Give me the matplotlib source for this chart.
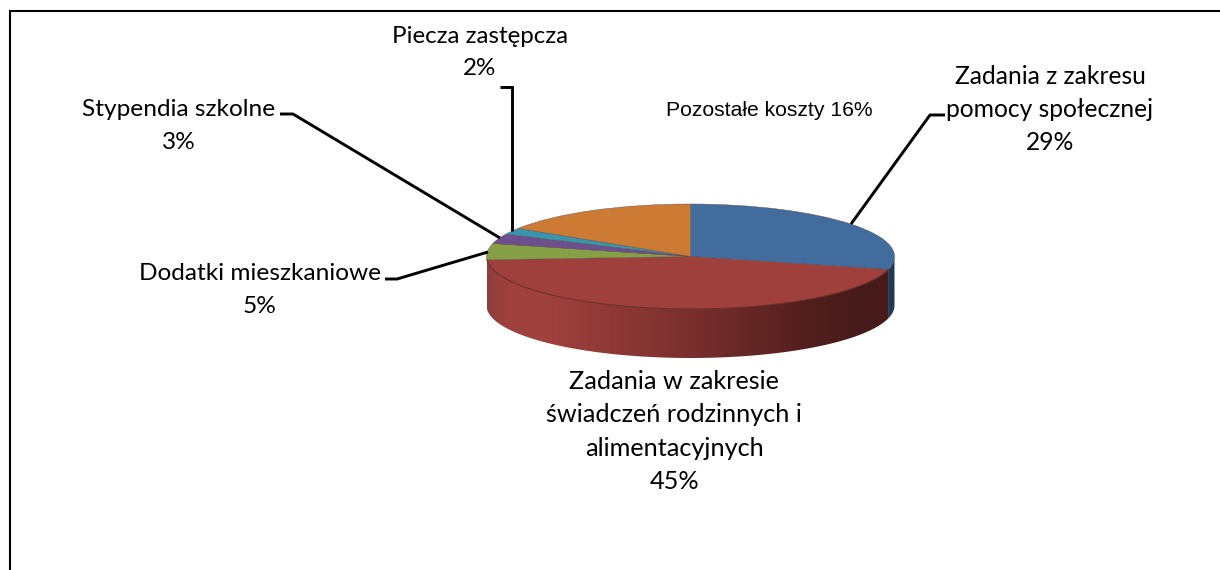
import numpy as np
import matplotlib
matplotlib.use('Agg')
import matplotlib.pyplot as plt
from matplotlib.colors import LinearSegmentedColormap
from matplotlib.patches import Polygon

# slices, clockwise from 12 o'clock
categories = ['Zadania z zakresu\npomocy społecznej', 'Zadania w zakresie\nświadczeń rodzinnych i\nalimentacyjnych',
              'Dodatki mieszkaniowe', 'Stypendia szkolne', 'Piecza zastępcza', 'Pozostałe koszty']
values = [29, 45, 5, 3, 2, 16]
colors = ['#426C9E', '#A0403C', '#85A045', '#6C4F8C', '#3795AE', '#CD7B34']

W, H = 1220, 570
cx, cy, rx, ry, depth = 690.5, 256.5, 204, 52.5, 49

fig = plt.figure(figsize=(W / 100, H / 100), dpi=100)

# pie axes: one data unit is rx wide and ry high, so the circle becomes the tilted top
ax = fig.add_axes([0, 0, 1, 1])
ax.pie(values, colors=colors, startangle=90, counterclock=False,
       wedgeprops={'linewidth': 0.3, 'edgecolor': '#5a4a4a'}, normalize=True)
ax.set_aspect('auto')
for p in ax.patches:
    p.set_zorder(5)

# side wall
d = depth / ry
ends = np.cumsum(values) / np.sum(values) * 360
red_a = np.radians(np.linspace(ends[0], ends[1], 200))
wall_x, wall_y = np.sin(red_a), np.cos(red_a)
red_poly = np.r_[np.c_[wall_x, wall_y], np.c_[wall_x, wall_y - d][::-1]]
clip = Polygon(red_poly, closed=True, transform=ax.transData, fc='none', ec='none')
ax.add_patch(clip)
cmap = LinearSegmentedColormap.from_list('wall', [(0, '#8E3F3B'), (0.05, '#9F413D'), (0.14, '#A0413C'),
                                                  (0.5, '#7A2F2E'), (0.78, '#531F1E'), (0.93, '#461A1A'), (1, '#4A1C1B')])
im = ax.imshow(np.linspace(0, 1, 400)[None, :], cmap=cmap, aspect='auto', zorder=2,
               extent=[-1, 1, -1 - d, 1.2])
im.set_clip_path(clip)
ax.set_xlim(-cx / rx, (W - cx) / rx)
ax.set_ylim((cy - H) / ry, cy / ry)

blue_a = np.radians(np.linspace(90, ends[0], 40))
bx, by = np.sin(blue_a), np.cos(blue_a)
ax.fill(np.r_[bx, bx[::-1]], np.r_[by, by[::-1] - d], color='#1F3A55', lw=0, zorder=2)

# thin rim under the top face
ax.plot(wall_x, wall_y, color='#6A2A28', lw=0.7, zorder=6)

# overlay in picture pixels for border, leaders and text
ov = fig.add_axes([0, 0, 1, 1], facecolor='none')
ov.set_xlim(0, W)
ov.set_ylim(H, 0)
ov.axis('off')

ov.plot([10, 10, W], [H, 11, 11], color='black', lw=1.5, solid_joinstyle='miter')

leaders = [
    ([945, 930, 851], [115, 115, 224]),
    ([385, 397, 488], [279, 279, 252]),
    ([280, 293, 500], [114, 114, 238]),
    ([500, 512, 512], [87, 87, 231]),
]
for lx, ly in leaders:
    ov.plot(lx, ly, color='black', lw=2.1, solid_joinstyle='miter', solid_capstyle='butt')

label_pos = [(1050, 109.5), (674, 431.5), (260, 290), (179, 126), (480, 52.5)]
label_size = [17.7, 18.2, 17.6, 17.6, 17.4]
label_space = [1.54, 1.53, 1.66, 1.66, 1.68]
for name, val, (x, y), fs, ls in zip(categories, values, label_pos, label_size, label_space):
    ov.text(x, y, f'{name}\n{val}%', family='Lato', fontsize=fs, ha='center', va='center',
            linespacing=ls, color='black')

ov.text(769, 111, f'{categories[5]} {values[5]}%', family='Liberation Sans', fontsize=15.2,
        ha='center', va='center', color='black')

fig.savefig('out.png', dpi=100)
